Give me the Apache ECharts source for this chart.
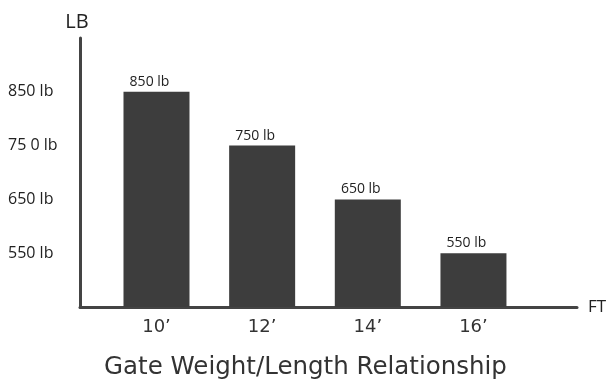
<!DOCTYPE html>
<html><head><meta charset="utf-8">
<script src="https://cdn.jsdelivr.net/npm/echarts@6/dist/echarts.min.js"></script>
<style>html,body{margin:0;padding:0;background:#fff}#c{width:611px;height:385px}</style>
</head><body><div id="c"></div>
<script>
const lengthsFt = [10, 12, 14, 16];
const xTickLabels = ["10’", "12’", "14’", "16’"];
const weightsLb = [850, 750, 650, 550];
const yTickValues = [550, 650, 750, 850];
const yTickLabels = ["550 lb", "650 lb", "75 0 lb", "850 lb"];
const barLabels = ["850 lb", "750 lb", "650 lb", "550 lb"];

const chart = echarts.init(document.getElementById('c'), null, {renderer: 'canvas'});
const axisColor = '#444';
chart.setOption({
  animation: false,
  backgroundColor: '#fff',
  title: {
    text: 'Gate Weight/Length Relationship',
    left: 'center', top: 350,
    textStyle: {fontFamily: 'DejaVu Sans', fontWeight: 'normal', fontSize: 24.5, color: '#333'}
  },
  grid: {left: 80, right: 34, top: 38, bottom: 78},
  xAxis: {
    type: 'value', min: 8.552, max: 17.96,
    name: 'FT', nameLocation: 'end', nameGap: 11,
    nameTextStyle: {fontFamily: 'Open Sans', fontSize: 17, color: '#222', verticalAlign: 'middle'},
    axisLine: {show: true, lineStyle: {color: axisColor, width: 3}},
    axisTick: {show: false},
    splitLine: {show: false},
    axisLabel: {
      customValues: lengthsFt,
      margin: 11,
      fontFamily: 'DejaVu Sans', fontSize: 18, color: '#333',
      formatter: v => xTickLabels[lengthsFt.indexOf(v)]
    }
  },
  yAxis: {
    type: 'value', min: 450, max: 950,
    name: 'LB', nameLocation: 'end', nameGap: 6,
    nameTextStyle: {fontFamily: 'Open Sans', fontSize: 20, color: '#222', align: 'center', padding: [0, 6, 0, 0]},
    axisLine: {show: true, lineStyle: {color: axisColor, width: 3}},
    axisTick: {show: false},
    splitLine: {show: false},
    axisLabel: {
      customValues: yTickValues,
      margin: 72, align: 'left',
      fontFamily: 'Open Sans', fontSize: 16, color: '#222',
      formatter: v => yTickLabels[yTickValues.indexOf(v)]
    }
  },
  series: [{
    type: 'bar',
    data: lengthsFt.map((x, i) => [x, weightsLb[i]]),
    barWidth: 66,
    itemStyle: {color: '#3d3d3d'},
    label: {
      show: true, position: 'top', distance: 3, offset: [-7, 0],
      fontFamily: 'Open Sans', fontSize: 14, color: '#222',
      formatter: p => barLabels[p.dataIndex]
    }
  }]
});
</script></body></html>
